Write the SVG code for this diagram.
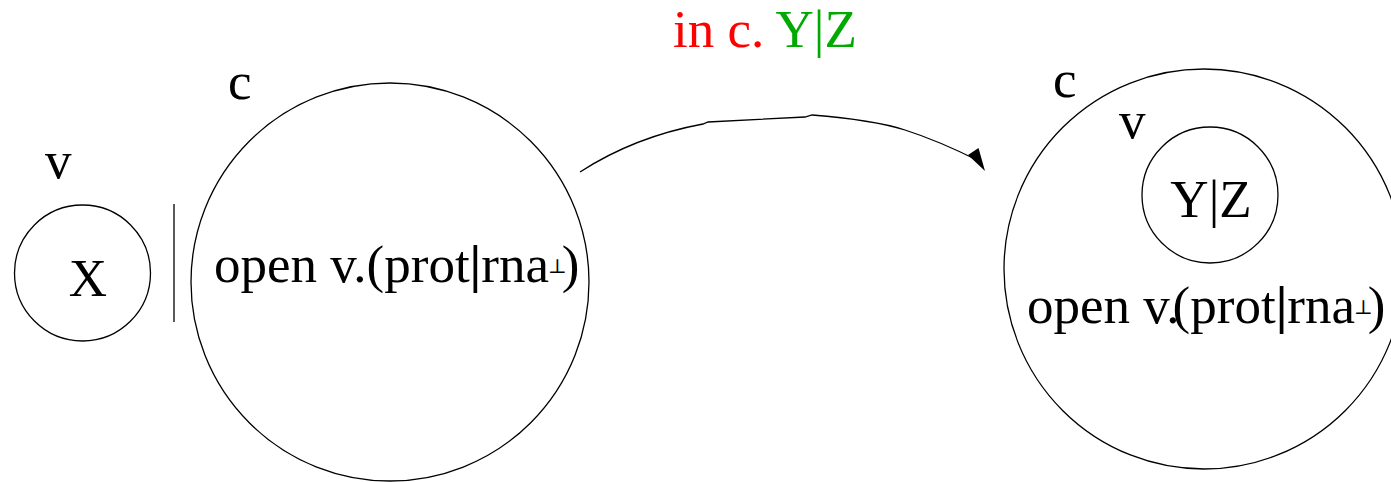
<svg xmlns="http://www.w3.org/2000/svg" width="1391" height="482" viewBox="0 0 1391 482">
<style>
.shape{fill:none;stroke:#000;stroke-width:1.3}
.t{font-family:"Liberation Serif","Times New Roman",serif;font-size:53px;fill:#000}
.sup{font-family:"DejaVu Serif","DejaVu Sans",serif;font-size:20px;fill:#000}
.bar{font-weight:bold}
</style>
<rect width="1391" height="482" fill="#fff"/>
<g id="title">
<text class="t" x="673" y="47"><tspan fill="#ff0000">in c.</tspan> <tspan fill="#00aa00">Y|Z</tspan></text>
</g>
<g id="node-x">
<circle class="shape" cx="82.5" cy="273" r="68"/>
<text class="t" x="45" y="178">v</text>
<text class="t" x="88" y="296" text-anchor="middle">X</text>
</g>
<g id="separator">
<line class="shape" x1="174" y1="204" x2="174" y2="322"/>
</g>
<g id="node-c-left">
<circle class="shape" cx="390" cy="282" r="199"/>
<text class="t" x="228" y="99">c</text>
<text class="t" x="214" y="282">open v.(prot<tspan class="bar">|</tspan>rna<tspan class="sup" dx="-1" dy="-9">⊥</tspan><tspan dx="-5" dy="9">)</tspan></text>
</g>
<g id="node-c-right">
<circle class="shape" cx="1204" cy="269" r="200"/>
<text class="t" x="1027" y="323">open v.<tspan dx="-7">(</tspan>prot<tspan class="bar">|</tspan>rna<tspan class="sup" dx="-1" dy="-9">⊥</tspan><tspan dx="-5" dy="9">)</tspan></text>
<text class="t" x="1053" y="97">c</text>
</g>
<g id="node-v-right">
<circle class="shape" cx="1210" cy="195" r="68"/>
<text class="t" x="1119" y="138">v</text>
<text class="t" x="1211" y="217" text-anchor="middle">Y|Z</text>
</g>
<g id="connectors">
<path class="shape" d="M580,172 C620,146 660,132 703,124 L708,122 L805,117 L812,115 C850,118 880,122 905,130 C930,138 955,149 979,161"/>
<polygon points="968,155 978.5,148 985,171" fill="#000"/>
</g>
</svg>
